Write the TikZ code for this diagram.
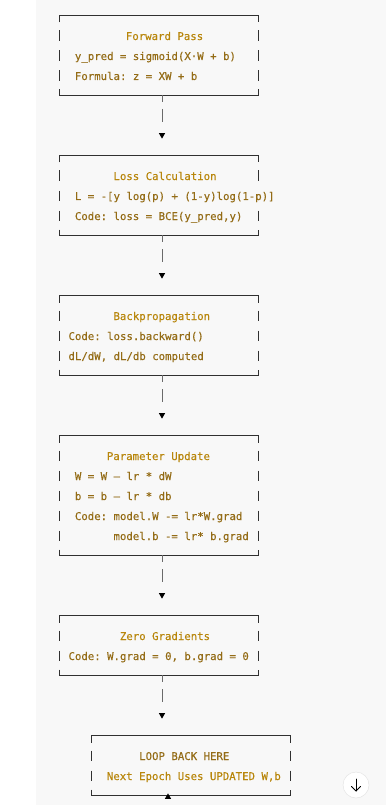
\documentclass[tikz,border=0pt]{standalone}
\usepackage{fontspec}
\setmonofont[FakeBold=0.25]{DejaVu Sans Mono}
\usetikzlibrary{calc,shapes.geometric}
\definecolor{bgc}{HTML}{F8F8F8}
\definecolor{ttl}{HTML}{B8860B}
\definecolor{txt}{HTML}{946C16}
\definecolor{frm}{HTML}{303030}
\definecolor{cnc}{HTML}{6A6A6A}
\newcommand\myboxframe[1]{%
  \draw[frame] ([yshift=-7.5pt]#1.north west) -- (#1.north west) -- (#1.north east) -- ([yshift=-7.5pt]#1.north east);
  \draw[frame] ([yshift=5.5pt]#1.south west) -- (#1.south west) -- (#1.south east) -- ([yshift=5.5pt]#1.south east);
}
\newcommand\mysidebars[3]{%
  \foreach \r in {#2} \draw[frame] ($(#1.north west)+(0,20*\r-4.5)$) -- ++(0,10.5);
  \foreach \r in {#3} \draw[frame] ($(#1.north east)+(0,20*\r-4.5)$) -- ++(0,10.5);
}
\begin{document}
\begin{tikzpicture}[x=1pt,y=-1pt,
  txtrow/.style={anchor=base west, inner sep=0pt, font=\ttfamily\fontsize{10.7}{12}\selectfont, text=txt},
  ttlrow/.style={txtrow, text=ttl},
  boxnode/.style={draw=none, inner sep=0pt, outer sep=0pt, minimum width=199pt, anchor=north west},
  frame/.style={draw=frm, line width=0.8pt},
  conn/.style={draw=cnc, line width=1pt, dash pattern=on 7pt off 7pt on 13pt off 200pt},
  downtri/.style={regular polygon, regular polygon sides=3, shape border rotate=180, fill=black, draw=none, inner sep=0pt, outer sep=0pt, minimum size=7.2pt},
  uptri/.style={regular polygon, regular polygon sides=3, fill=black, draw=none, inner sep=0pt, outer sep=0pt, minimum size=7.2pt}]
\useasboundingbox (0,0) rectangle (386,805);
\fill[white] (0,0) rectangle (386,805);
\fill[bgc] (36,0) rectangle (386,805);

% boxes
\node[boxnode, minimum height=80pt] (b1) at (59,15) {};
\node[boxnode, minimum height=80pt] (b2) at (59,155) {};
\node[boxnode, minimum height=80pt] (b3) at (59,295) {};
\node[boxnode, minimum height=120pt] (b4) at (59,435) {};
\node[boxnode, minimum height=60pt] (b5) at (59,615) {};
\node[boxnode, minimum height=60pt] (b6) at (91,735) {};

\myboxframe{b1}\mysidebars{b1}{1,2,3}{1,2,3}
\myboxframe{b2}\mysidebars{b2}{1,2,3}{1,3}
\myboxframe{b3}\mysidebars{b3}{1,2,3}{1,2,3}
\myboxframe{b4}\mysidebars{b4}{1,2,3,4,5}{1,2,3,4,5}
\myboxframe{b5}\mysidebars{b5}{1,2}{1,2}
\myboxframe{b6}\mysidebars{b6}{1,2}{1,2}

% texts
\node[ttlrow] (t1a) at (125.7,40) {Forward Pass};
\node[txtrow] (t1b) at (74.7,60) {y\_pred = sigmoid(X·W + b)};
\node[txtrow] (t1c) at (74.7,80) {Formula: z = XW + b};

\node[ttlrow] (t2a) at (113.3,180) {Loss Calculation};
\node[txtrow] (t2b) at (74.7,200) {L = -[y log(p) + (1-y)log(1-p)]};
\node[txtrow] (t2c) at (74.7,220) {Code: loss = BCE(y\_pred,y)};

\node[ttlrow] (t3a) at (113.3,320) {Backpropagation};
\node[txtrow] (t3b) at (68.3,340) {Code: loss.backward()};
\node[txtrow] (t3c) at (68.3,360) {dL/dW, dL/db computed};

\node[ttlrow] (t4a) at (106.7,460) {Parameter Update};
\node[txtrow] (t4b) at (74.7,480) {W = W – lr * dW};
\node[txtrow] (t4c) at (74.7,500) {b = b – lr * db};
\node[txtrow] (t4d) at (74.7,520) {Code: model.W -= lr*W.grad};
\node[txtrow] (t4e) at (113.3,540) {model.b -= lr* b.grad};

\node[ttlrow] (t5a) at (119.7,640) {Zero Gradients};
\node[txtrow] (t5b) at (68.3,660) {Code: W.grad = 0, b.grad = 0};

\node[txtrow] (t6a) at (139,760) {LOOP BACK HERE};
\node[ttlrow] (t6b) at (106.7,780) {Next Epoch Uses UPDATED W,b};

% connectors
\foreach \a/\b in {b1/b2,b2/b3,b3/b4,b4/b5,b5/b6}
  \draw[conn] ([xshift=3.5pt]\a.south) -- node[pos=0.667, downtri]{} ([xshift=3.5pt]\a.south |- \b.north);
\node[uptri] (up) at ([xshift=-22.5pt,yshift=-2pt]b6.south) {};

% scroll button
\node[circle, draw=black!12, fill=white, minimum size=26pt, inner sep=0pt] (btn) at (356,785) {};
\draw[line width=0.8pt, line cap=round, line join=round] ([yshift=6pt]btn.center) -- ([yshift=-6pt]btn.center);
\draw[line width=0.8pt, line cap=round, line join=round] ([xshift=-4.5pt,yshift=-1.5pt]btn.center) -- ([yshift=-6pt]btn.center) -- ([xshift=4.5pt,yshift=-1.5pt]btn.center);
\end{tikzpicture}
\end{document}
